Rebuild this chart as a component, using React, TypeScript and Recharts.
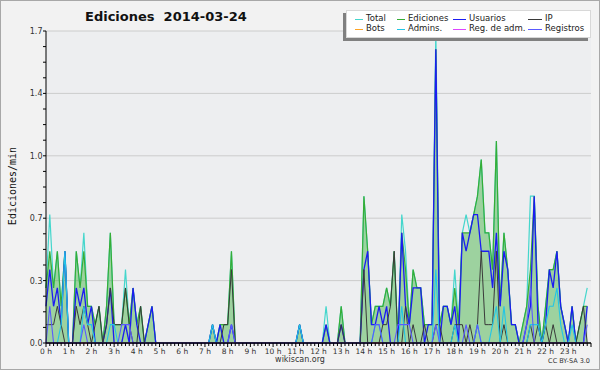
import { ComposedChart, Area, Line, XAxis, YAxis, CartesianGrid } from "recharts";

// one value every 10 minutes, 6 per hour, in edits per minute
const total = [
  0.3, 0.7, 0.3, 0.5, 0.2, 0.5,
  0, 0, 0.5, 0.3, 0.6, 0.2,
  0.2, 0.1, 0.2, 0, 0.2, 0.6,
  0.1, 0.1, 0.1, 0.4, 0.1, 0.3,
  0.1, 0.2, 0, 0.1, 0.2, 0,
  0, 0, 0, 0, 0, 0,
  0, 0, 0, 0, 0, 0,
  0, 0, 0.1, 0, 0.1, 0.1,
  0.1, 0.5, 0, 0, 0, 0,
  0, 0, 0, 0, 0, 0,
  0, 0, 0, 0, 0, 0,
  0, 0.1, 0, 0, 0, 0,
  0, 0, 0.2, 0, 0, 0,
  0.2, 0, 0, 0, 0, 0,
  0.8, 0.5, 0.1, 0.2, 0.2, 0.2,
  0.3, 0.2, 0.5, 0, 0.7, 0.5,
  0.1, 0.4, 0.3, 0.3, 0.1, 0.1,
  0.1, 1.7, 0.1, 0.2, 0.2, 0.1,
  0.4, 0.1, 0.6, 0.7, 0.6, 0.7,
  0.8, 1.0, 0.6, 0.6, 0.4, 1.1,
  0.2, 0.6, 0.4, 0.1, 0.1, 0,
  0.1, 0.2, 0.8, 0.8, 0.2, 0,
  0.2, 0.4, 0.4, 0.5, 0.2, 0.1,
  0, 0.2, 0, 0.1, 0.2, 0.3,
];

const ediciones = [
  0.3, 0.5, 0.3, 0.5, 0.2, 0.5,
  0, 0, 0.5, 0.3, 0.5, 0.2,
  0.2, 0.1, 0.2, 0, 0.2, 0.6,
  0.1, 0.1, 0.1, 0.3, 0.1, 0.3,
  0.1, 0.2, 0, 0.1, 0.2, 0,
  0, 0, 0, 0, 0, 0,
  0, 0, 0, 0, 0, 0,
  0, 0, 0.1, 0, 0.1, 0.1,
  0.1, 0.5, 0, 0, 0, 0,
  0, 0, 0, 0, 0, 0,
  0, 0, 0, 0, 0, 0,
  0, 0.1, 0, 0, 0, 0,
  0, 0, 0.1, 0, 0, 0,
  0.2, 0, 0, 0, 0, 0,
  0.8, 0.5, 0.1, 0.2, 0.2, 0.2,
  0.3, 0.2, 0.5, 0, 0.6, 0.4,
  0.1, 0.4, 0.3, 0.3, 0.1, 0.1,
  0.1, 1.6, 0.1, 0.2, 0.2, 0.1,
  0.3, 0.1, 0.6, 0.6, 0.6, 0.7,
  0.8, 1.0, 0.6, 0.6, 0.4, 1.1,
  0.2, 0.6, 0.4, 0.1, 0.1, 0,
  0.1, 0.2, 0.4, 0.8, 0.2, 0,
  0.2, 0.4, 0.4, 0.5, 0.2, 0.1,
  0, 0.2, 0, 0.1, 0.2, 0.2,
];

const usuarios = [
  0.2, 0.4, 0.2, 0.3, 0.1, 0.5,
  0, 0, 0.3, 0.2, 0.3, 0.1,
  0.2, 0, 0, 0, 0.1, 0.3,
  0, 0, 0, 0.1, 0, 0.3,
  0.1, 0, 0, 0.1, 0.2, 0,
  0, 0, 0, 0, 0, 0,
  0, 0, 0, 0, 0, 0,
  0, 0, 0.1, 0, 0.1, 0,
  0, 0.1, 0, 0, 0, 0,
  0, 0, 0, 0, 0, 0,
  0, 0, 0, 0, 0, 0,
  0, 0.1, 0, 0, 0, 0,
  0, 0, 0.1, 0, 0, 0,
  0.1, 0, 0, 0, 0, 0,
  0.4, 0.5, 0.1, 0.1, 0.2, 0.1,
  0.2, 0, 0, 0, 0.6, 0.2,
  0.1, 0.3, 0.3, 0.3, 0, 0.1,
  0.1, 1.6, 0, 0.2, 0.2, 0.1,
  0.2, 0, 0.6, 0.5, 0.6, 0.7,
  0.7, 0.5, 0.5, 0.5, 0.3, 0.6,
  0.2, 0.5, 0.4, 0.1, 0.1, 0,
  0, 0.1, 0.2, 0.8, 0.1, 0,
  0.1, 0.4, 0.3, 0.5, 0.2, 0.1,
  0, 0.2, 0, 0, 0, 0.2,
];

const ip = [
  0.1, 0.1, 0.1, 0.2, 0.1, 0,
  0, 0, 0.2, 0.1, 0.2, 0.1,
  0, 0.1, 0.2, 0, 0.1, 0.3,
  0.1, 0.1, 0.1, 0.3, 0.1, 0,
  0, 0.2, 0, 0, 0, 0,
  0, 0, 0, 0, 0, 0,
  0, 0, 0, 0, 0, 0,
  0, 0, 0, 0, 0, 0.1,
  0.1, 0.4, 0, 0, 0, 0,
  0, 0, 0, 0, 0, 0,
  0, 0, 0, 0, 0, 0,
  0, 0, 0, 0, 0, 0,
  0, 0, 0, 0, 0, 0,
  0.1, 0, 0, 0, 0, 0,
  0.4, 0, 0, 0, 0, 0.1,
  0.1, 0.2, 0.5, 0, 0, 0.2,
  0, 0.1, 0, 0, 0.1, 0,
  0, 0.1, 0.1, 0, 0, 0,
  0.1, 0.1, 0.1, 0, 0.1, 0,
  0.1, 0.5, 0.1, 0.1, 0.1, 0.5,
  0, 0.1, 0, 0, 0, 0,
  0, 0, 0.1, 0, 0.1, 0,
  0.1, 0, 0.1, 0, 0, 0,
  0, 0, 0, 0.1, 0.2, 0,
];

const admins = [
  0, 0, 0, 0, 0.1, 0.5,
  0, 0, 0, 0, 0.2, 0.1,
  0.1, 0, 0, 0, 0, 0.1,
  0.1, 0, 0, 0, 0, 0,
  0, 0, 0, 0, 0, 0,
  0, 0, 0, 0, 0, 0,
  0, 0, 0, 0, 0, 0,
  0, 0, 0.1, 0, 0, 0,
  0, 0, 0, 0, 0, 0,
  0, 0, 0, 0, 0, 0,
  0, 0, 0, 0, 0, 0,
  0, 0.1, 0, 0, 0, 0,
  0, 0, 0, 0, 0, 0,
  0, 0, 0, 0, 0, 0,
  0, 0, 0, 0.1, 0.1, 0,
  0, 0, 0, 0, 0.2, 0,
  0, 0, 0, 0, 0, 0,
  0, 0.4, 0, 0, 0, 0,
  0.1, 0, 0, 0, 0, 0,
  0.1, 0, 0, 0, 0.1, 0.2,
  0, 0.2, 0, 0, 0, 0,
  0, 0, 0.1, 0.1, 0.1, 0,
  0.1, 0.2, 0.2, 0.3, 0.1, 0,
  0, 0.1, 0, 0, 0, 0,
];

const registros = [
  0, 0.2, 0, 0, 0, 0,
  0, 0, 0, 0, 0.1, 0,
  0, 0, 0, 0, 0, 0,
  0, 0, 0.1, 0.1, 0.1, 0,
  0, 0, 0, 0, 0, 0,
  0, 0, 0, 0, 0, 0,
  0, 0, 0, 0, 0, 0,
  0, 0, 0, 0, 0, 0,
  0, 0.1, 0, 0, 0, 0,
  0, 0, 0, 0, 0, 0,
  0, 0, 0, 0, 0, 0,
  0, 0, 0, 0, 0, 0,
  0, 0, 0, 0, 0, 0,
  0, 0, 0, 0, 0, 0,
  0, 0, 0, 0.1, 0.1, 0,
  0, 0, 0, 0.1, 0.1, 0.1,
  0.1, 0, 0, 0, 0, 0,
  0, 0.1, 0, 0, 0, 0,
  0, 0, 0, 0.1, 0, 0,
  0.1, 0, 0, 0, 0, 0,
  0, 0, 0, 0, 0, 0,
  0, 0.1, 0.3, 0, 0, 0,
  0, 0, 0, 0, 0, 0,
  0, 0, 0, 0, 0, 0.1,
];

// no bot edits and no edits by registered admins that day
const bots = [
  0, 0, 0, 0, 0, 0, 0, 0, 0, 0, 0, 0, 0, 0, 0, 0, 0, 0, 0, 0, 0, 0, 0, 0,
  0, 0, 0, 0, 0, 0, 0, 0, 0, 0, 0, 0, 0, 0, 0, 0, 0, 0, 0, 0, 0, 0, 0, 0,
  0, 0, 0, 0, 0, 0, 0, 0, 0, 0, 0, 0, 0, 0, 0, 0, 0, 0, 0, 0, 0, 0, 0, 0,
  0, 0, 0, 0, 0, 0, 0, 0, 0, 0, 0, 0, 0, 0, 0, 0, 0, 0, 0, 0, 0, 0, 0, 0,
  0, 0, 0, 0, 0, 0, 0, 0, 0, 0, 0, 0, 0, 0, 0, 0, 0, 0, 0, 0, 0, 0, 0, 0,
  0, 0, 0, 0, 0, 0, 0, 0, 0, 0, 0, 0, 0, 0, 0, 0, 0, 0, 0, 0, 0, 0, 0, 0,
];
const regAdm = [
  0, 0, 0, 0, 0, 0, 0, 0, 0, 0, 0, 0, 0, 0, 0, 0, 0, 0, 0, 0, 0, 0, 0, 0,
  0, 0, 0, 0, 0, 0, 0, 0, 0, 0, 0, 0, 0, 0, 0, 0, 0, 0, 0, 0, 0, 0, 0, 0,
  0, 0, 0, 0, 0, 0, 0, 0, 0, 0, 0, 0, 0, 0, 0, 0, 0, 0, 0, 0, 0, 0, 0, 0,
  0, 0, 0, 0, 0, 0, 0, 0, 0, 0, 0, 0, 0, 0, 0, 0, 0, 0, 0, 0, 0, 0, 0, 0,
  0, 0, 0, 0, 0, 0, 0, 0, 0, 0, 0, 0, 0, 0, 0, 0, 0, 0, 0, 0, 0, 0, 0, 0,
  0, 0, 0, 0, 0, 0, 0, 0, 0, 0, 0, 0, 0, 0, 0, 0, 0, 0, 0, 0, 0, 0, 0, 0,
];

const hourLabels = [
  "0 h", "1 h", "2 h", "3 h", "4 h", "5 h", "6 h", "7 h", "8 h", "9 h", "10 h", "11 h",
  "12 h", "13 h", "14 h", "15 h", "16 h", "17 h", "18 h", "19 h", "20 h", "21 h", "22 h", "23 h",
];
const yTicks = [0, 0.34, 0.68, 1.02, 1.36, 1.7];
const yTickLabels = ["0.0", "0.3", "0.7", "1.0", "1.4", "1.7"];

const series = [
  { key: "total", label: "Total", color: "#44d6cc", width: 1.2 },
  { key: "ediciones", label: "Ediciones", color: "#36ad36", width: 1.2 },
  { key: "usuarios", label: "Usuarios", color: "#1c1cf2", width: 1.3 },
  { key: "ip", label: "IP", color: "#3a3a3a", width: 1 },
  { key: "bots", label: "Bots", color: "#ffa424", width: 1 },
  { key: "admins", label: "Admins.", color: "#22c6e6", width: 1.1 },
  { key: "regAdm", label: "Reg. de adm.", color: "#dd44ff", width: 1 },
  { key: "registros", label: "Registros", color: "#5a5aff", width: 1.1 },
];

const data = total.map((v, i) => ({
  t: i,
  total: v,
  ediciones: ediciones[i],
  usuarios: usuarios[i],
  ip: ip[i],
  bots: bots[i],
  admins: admins[i],
  regAdm: regAdm[i],
  registros: registros[i],
}));

const xTicks = Array.from({ length: total.length + 1 }, (_, i) => i);
const yAllTicks = yTicks.flatMap((v, i) =>
  i === 0 ? [v] : [1, 2, 3].map((k) => yTicks[i - 1] + ((v - yTicks[i - 1]) * k) / 4).concat(v)
);

const FONT = "'DejaVu Sans', sans-serif";

function XTick({ x, y, payload }: any) {
  const v = payload.value;
  const hour = v % 6 === 0;
  return (
    <g>
      <line x1={x} x2={x} y1={y} y2={y + (hour ? 4 : 3)} stroke="#000" />
      {hour && v / 6 < hourLabels.length && (
        <text x={x} y={y + 11} textAnchor="middle" fontSize={7.5} fontFamily={FONT} fill="#333">
          {hourLabels[v / 6]}
        </text>
      )}
    </g>
  );
}

function YTick({ x, y, payload }: any) {
  const i = yTicks.indexOf(payload.value);
  const major = i >= 0;
  return (
    <g>
      <line x1={x - 3} x2={x} y1={y} y2={y} stroke="#000" />
      {major && (
        <text x={x - 3.5} y={y + 3} textAnchor="end" fontSize={8} fontFamily={FONT} fill="#333">
          {yTickLabels[i]}
        </text>
      )}
    </g>
  );
}

const legendCols = [
  { sw: 355, tx: 366 },
  { sw: 397, tx: 408 },
  { sw: 453, tx: 469 },
  { sw: 528, tx: 545 },
];

export default function App() {
  return (
    <div
      style={{
        position: "absolute",
        left: 0,
        top: 0,
        width: 600,
        height: 370,
        background: "#f2f2f2",
        fontFamily: FONT,
        overflow: "hidden",
      }}
    >
      <ComposedChart
        width={600}
        height={370}
        data={data}
        margin={{ top: 31, right: 9, bottom: 0, left: 0 }}
      >
        <CartesianGrid
          fill="#edeef0"
          stroke="#cccccc"
          vertical={false}
          horizontalValues={yTicks.slice(1)}
        />
        {/* green fill under the Ediciones line; the line itself is drawn with the others */}
        <Area
          type="linear"
          dataKey="ediciones"
          stroke="none"
          fill="#3cb03c"
          fillOpacity={0.45}
          dot={false}
          activeDot={false}
          legendType="none"
          isAnimationActive={false}
        />
        {series.map((s) => (
          <Line
            key={s.key}
            type="linear"
            dataKey={s.key}
            stroke={s.color}
            strokeWidth={s.width}
            dot={false}
            activeDot={false}
            isAnimationActive={false}
          />
        ))}
        <XAxis
          dataKey="t"
          type="number"
          domain={[0, total.length]}
          ticks={xTicks}
          interval={0}
          height={27}
          tickSize={0}
          tickMargin={0}
          tick={<XTick />}
          axisLine={{ stroke: "#000", strokeWidth: 1.5 }}
        />
        <YAxis
          type="number"
          domain={[0, 1.7]}
          ticks={yAllTicks}
          interval={0}
          width={46}
          tickSize={0}
          tickMargin={0}
          tick={<YTick />}
          axisLine={{ stroke: "#000" }}
        />
      </ComposedChart>

      <div
        style={{
          position: "absolute",
          left: 85,
          top: 10,
          fontSize: 13,
          lineHeight: "14px",
          fontWeight: "bold",
          whiteSpace: "pre",
          color: "#111",
        }}
      >
        {"Ediciones  2014-03-24"}
      </div>

      <div
        style={{
          position: "absolute",
          left: 12,
          top: 186,
          transform: "translate(-50%, -50%) rotate(-90deg)",
          fontFamily: "'DejaVu Sans Mono', monospace",
          fontSize: 10,
          whiteSpace: "nowrap",
          color: "#111",
        }}
      >
        Ediciones/min
      </div>

      <div
        style={{
          position: "absolute",
          left: 346,
          top: 10,
          width: 245,
          height: 28,
          background: "#fff",
          border: "1px solid #d8d8d8",
          boxSizing: "border-box",
          boxShadow: "-3px 3px 0 #808080",
        }}
      />
      {series.map((s, i) => {
        const col = legendCols[i % 4];
        const top = i < 4 ? 19 : 29;
        return (
          <div key={s.key}>
            <div
              style={{
                position: "absolute",
                left: col.sw,
                top: top,
                width: col.tx - col.sw - 3,
                height: 1,
                background: s.color,
              }}
            />
            <div
              style={{
                position: "absolute",
                left: col.tx,
                top: top - 6,
                fontSize: 8.5,
                lineHeight: "11px",
                color: "#222",
                whiteSpace: "nowrap",
              }}
            >
              {s.label}
            </div>
          </div>
        );
      })}

      <div
        style={{
          position: "absolute",
          left: 300,
          top: 355,
          transform: "translateX(-50%)",
          fontSize: 8,
          color: "#333",
        }}
      >
        wikiscan.org
      </div>
      <div
        style={{
          position: "absolute",
          right: 10,
          top: 357,
          fontSize: 6.5,
          color: "#333",
        }}
      >
        CC BY-SA 3.0
      </div>
      <div
        style={{
          position: "absolute",
          left: 0,
          top: 0,
          width: 600,
          height: 370,
          boxSizing: "border-box",
          border: "1px solid #a8a8a8",
          pointerEvents: "none",
        }}
      />
    </div>
  );
}
